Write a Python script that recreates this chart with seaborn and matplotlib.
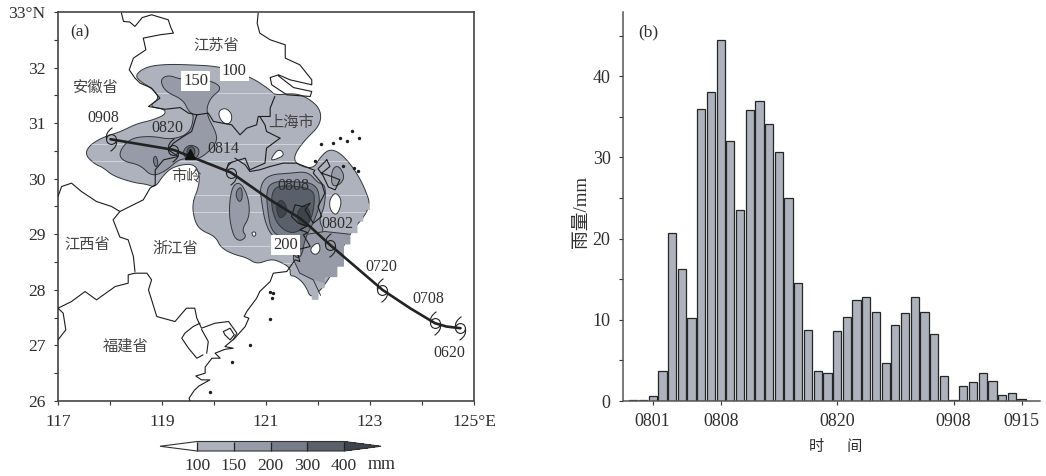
import numpy as np
import matplotlib
matplotlib.use("Agg")
import matplotlib.pyplot as plt
import seaborn as sns
from matplotlib.cm import ScalarMappable
from matplotlib.colors import BoundaryNorm, ListedColormap
from matplotlib.path import Path
from matplotlib.patches import Polygon

# ---- panel (b) hourly rain
hours = [-2, -1, 0, 1, 2, 3, 4, 5, 6, 7, 8, 9, 10, 11, 12, 13, 14, 15, 16, 17, 18,
         19, 20, 21, 22, 23, 24, 25, 26, 27, 28, 29, 30, 31, 32, 33, 34, 35, 36, 37, 38]
rain = [0.1, 0.1, 0.6, 3.7, 20.7, 16.2, 10.2, 35.9, 38.1, 44.4, 32.0, 23.5, 35.8, 37.0,
        34.1, 30.7, 25.0, 14.5, 8.7, 3.7, 3.4, 8.6, 10.4, 12.4, 12.8, 10.9, 4.7, 9.4,
        10.8, 12.8, 10.9, 8.2, 3.1, 0.1, 1.8, 2.3, 3.5, 2.5, 0.7, 1.0, 0.3]
hour_ticks = [0, 7, 19, 31, 38]
hour_labels = ['0801', '0808', '0820', '0908', '0915']

# ---- panel (a) rain areas, lon/lat
rain_100 = [(118.48,31.87),(118.71,32.02),(119.09,32.06),(119.54,32.05),(120.12,32.02),(120.69,31.84),
            (121.08,31.60),(121.17,31.50),(121.53,31.54),(121.78,31.47),(122.05,31.26),(122.05,30.97),
            (121.75,30.70),(121.54,30.43),(121.57,30.26),(121.91,30.17),(122.05,30.40),(122.23,30.54),
            (122.45,30.45),(122.71,30.16),(122.90,29.83),(123.03,29.47),(122.55,28.96),(122.30,28.30),
            (121.88,27.80),(121.75,28.10),(121.56,28.25),(121.46,28.25),(121.47,28.40),(121.24,28.52),
            (121.08,28.55),(120.82,28.46),(120.63,28.58),(120.37,28.64),(120.13,28.76),(120.03,28.96),
            (119.73,29.08),(119.62,29.26),(119.58,29.56),(119.71,29.86),(119.72,30.10),(119.60,30.28),
            (119.22,30.22),(119.03,30.07),(118.87,29.84),(118.71,29.90),(118.45,29.93),(118.06,30.05),
            (117.87,30.20),(117.71,30.26),(117.52,30.43),(117.60,30.60),(117.87,30.75),(118.19,30.84),
            (118.51,30.99),(118.80,31.05),(119.06,31.15),(119.06,31.25),(118.74,31.30),(118.96,31.45),
            (118.80,31.63),(118.58,31.75)]
rain_100_stairs = [(122.99,29.56),(123.00,29.44),(122.87,29.44),(122.87,29.23),(122.76,29.23),(122.76,29.02),
                   (122.62,29.02),(122.62,28.82),(122.50,28.82),(122.50,28.42),(122.37,28.42),(122.37,28.23),
                   (122.13,28.23),(122.13,28.03),(122.01,28.03),(122.01,27.82),(121.88,27.82),(121.88,28.30),
                   (122.29,29.44)]
rain_150_west = [(118.96,31.78),(119.12,31.87),(119.38,31.78),(119.92,31.78),(120.17,31.63),(119.92,31.45),
                 (119.84,31.18),(120.05,30.82),(120.05,30.64),(119.80,30.40),(119.60,30.34),(119.35,30.37),
                 (119.06,30.13),(118.80,30.04),(118.58,30.25),(118.26,30.31),(118.16,30.46),(118.38,30.73),
                 (118.80,30.77),(119.19,30.70),(119.54,30.82),(119.62,31.15),(119.51,31.21),(119.41,31.42),
                 (119.06,31.57)]
rain_150_oval = [(120.34,29.86),(120.50,29.95),(120.66,29.68),(120.69,29.32),(120.53,29.08),(120.63,28.96),
                 (120.50,28.87),(120.37,28.96),(120.28,29.38)]
rain_150_center = [(120.88,29.86),(121.04,30.07),(121.46,30.10),(121.81,30.13),(122.00,29.92),(122.15,29.89),
                   (122.13,29.50),(122.01,29.26),(122.13,29.05),(121.91,28.90),(121.65,28.60),(121.49,28.72),
                   (121.11,28.96),(120.98,29.23),(120.92,29.56)]
rain_150_south = [(122.13,29.05),(122.62,29.00),(122.62,28.82),(122.50,28.82),(122.50,28.42),(122.37,28.42),
                  (122.37,28.23),(122.13,28.23),(122.13,28.12),(121.91,28.18),(121.65,28.30),(121.53,28.54),
                  (121.53,28.75),(121.72,28.99)]
rain_150_east = [(122.26,30.16),(122.39,30.25),(122.52,30.04),(122.42,29.89),(122.26,29.86)]
south_contour = [(122.62,29.00),(122.13,29.05),(121.72,28.99),(121.53,28.75),(121.53,28.54),(121.65,28.30),
                 (121.91,28.18),(122.05,27.90)]
rain_200_center = [(121.00,29.80),(121.14,29.95),(121.49,29.95),(121.97,29.92),(122.05,29.56),(121.91,29.20),
                   (121.75,28.93),(121.69,28.60),(121.56,28.57),(121.49,28.78),(121.33,28.93),(121.11,29.05),
                   (121.04,29.35)]
rain_200_oval = [(120.44,29.80),(120.53,29.86),(120.55,29.65),(120.49,29.57),(120.42,29.68)]
rain_200_shiling = [(119.41,30.52),(119.54,30.62),(119.72,30.55),(119.70,30.40),(119.54,30.33),(119.42,30.40)]
rain_200_small = [(118.82,30.34),(118.88,30.43),(118.93,30.28),(118.88,30.19)]
rain_300_center = [(121.11,29.77),(121.27,29.89),(121.91,29.83),(121.94,29.56),(121.85,29.20),(121.53,28.99),
                   (121.24,29.14),(121.11,29.44)]
rain_300_shiling = [(119.46,30.49),(119.54,30.59),(119.63,30.55),(119.63,30.43),(119.54,30.37)]
rain_400_west = [(121.22,29.59),(121.33,29.62),(121.43,29.41),(121.27,29.26),(121.20,29.44)]
rain_400_east = [(121.62,29.44),(121.75,29.53),(121.85,29.41),(121.85,29.20),(121.69,29.14),(121.59,29.29)]
rain_holes = [
    [(120.08,31.21),(120.21,31.28),(120.34,31.18),(120.34,31.03),(120.24,30.97),(120.12,31.06)],
    [(121.08,30.34),(121.24,30.55),(121.37,30.43),(121.17,30.34)],
    [(122.22,29.62),(122.33,29.76),(122.44,29.65),(122.44,29.50),(122.35,29.33),(122.23,29.44)],
    [(121.85,28.75),(122.01,28.87),(122.05,28.72),(121.97,28.63),(121.88,28.66)],
    [(120.72,29.03),(120.79,29.05),(120.81,28.99),(120.76,28.95)],
]
grid_lats = [31.54, 30.62, 30.32, 29.71, 29.40, 28.79, 28.48]

# ---- panel (a) borders and coast
borders = [
    [(118.22,32.98),(118.26,32.83),(118.38,32.82),(118.48,32.74),(118.62,32.90),(118.80,32.95),(119.12,32.86),
     (119.17,32.72),(119.22,32.62),(118.96,32.59),(118.64,32.53),(118.69,32.32),(118.45,32.17),(118.37,31.96),
     (118.48,31.81),(118.58,31.72),(118.80,31.63),(118.96,31.45),(118.74,31.30),(119.06,31.25),(119.35,31.28),
     (119.51,31.18),(119.67,31.15)],
    [(119.67,31.15),(119.57,30.85),(119.41,30.76),(119.22,30.64),(119.12,30.52),(119.31,30.40),(119.03,30.34),
     (118.87,30.16),(118.87,29.89),(118.77,29.83),(118.64,29.62),(118.19,29.41),(118.06,29.26),(118.19,28.95),
     (118.35,28.90),(118.45,28.60),(118.48,28.33)],
    [(117.00,29.68),(117.07,29.86),(117.26,29.92),(117.45,29.77),(117.74,29.59),(118.03,29.50),(118.19,29.41)],
    [(118.48,28.30),(118.35,28.27),(118.35,28.12),(118.10,28.06),(117.74,27.82),(117.52,27.97),(117.26,27.79),
     (117.00,27.67),(117.10,27.58),(117.15,27.28),(117.00,27.10)],
    [(118.48,28.30),(118.71,28.30),(118.80,28.18),(118.74,28.00),(118.90,27.52),(119.25,27.43),(119.47,27.67),
     (119.63,27.67),(119.67,27.49),(119.76,27.31),(120.02,27.40),(120.28,27.43),(120.44,27.22),(120.37,27.10)],
    [(119.73,27.40),(119.60,27.34),(119.44,27.22),(119.38,27.13),(119.51,26.95),(119.67,26.77),(119.79,26.83)],
    [(119.76,27.29),(119.89,27.07),(119.86,26.86)],
    [(120.18,27.25),(120.31,27.31),(120.39,27.19),(120.31,27.10),(120.21,27.19),(120.18,27.25)],
    [(119.67,31.15),(119.89,31.18),(119.99,31.03),(120.34,30.97),(120.50,30.79),(120.63,30.91),(120.82,30.97),
     (120.85,31.12),(121.08,31.12),(121.08,31.27),(121.17,31.48)],
    [(120.88,31.12),(120.98,30.97),(121.01,30.85),(121.27,30.73)],
    [(121.27,30.73),(121.01,30.55),(120.98,30.28),(120.69,30.16),(120.60,30.37),(120.28,30.28),(120.23,30.13)],
    [(120.40,30.37),(120.60,30.25),(120.69,30.13),(120.88,30.16),(121.08,30.22),(121.33,30.28),(121.59,30.28),(121.91,30.16)],
]
coast = [(119.54,26.00),(119.52,26.05),(119.62,26.19),(119.71,26.27),(119.92,26.38),(119.76,26.38),(119.65,26.45),
         (119.83,26.50),(119.83,26.61),(119.96,26.77),(120.12,26.77),(120.02,26.86),(120.21,26.93),(120.37,26.95),
         (120.21,26.98),(120.40,27.13),(120.60,27.34),(120.67,27.49),(120.58,27.52),(120.63,27.61),(120.82,27.85),
         (120.88,27.97),(121.08,28.15),(121.14,28.30),(121.40,28.33),(121.56,28.54),(121.65,28.51),(121.59,28.72),
         (121.85,28.78),(121.72,28.99),(121.80,29.03),(121.65,29.08),(121.80,29.15),(121.62,29.20),(121.49,29.32),
         (121.56,29.53),(121.70,29.50),(121.85,29.56),(121.75,29.44),(121.91,29.20),(122.07,29.32),(122.00,29.50),
         (122.10,29.68),(122.13,29.74),(122.07,29.92),(121.91,30.10),(121.94,30.16)]
jiangsu_coast = [(120.85,32.98),(120.83,32.80),(120.88,32.62),(121.08,32.50),(121.37,32.41),(121.37,32.17),
                 (121.65,32.05),(121.88,31.78),(121.88,31.69),(121.46,31.78),(121.24,31.87),(121.08,31.82),
                 (121.11,31.69),(121.40,31.51),(121.85,31.48),(121.88,31.57),(121.53,31.64),(121.24,31.85)]
zhoushan = [(122.17,30.34),(122.23,30.22),(122.07,30.10),(122.26,30.04),(122.42,29.98),(122.33,29.80),(122.20,29.85),
            (122.10,30.05),(122.00,30.18),(122.17,30.34)]
island_lon = [122.65,122.42,122.55,122.78,122.05,122.28,121.95,122.49,122.69,122.76,119.92,120.69,120.35,121.11,121.08,121.08,121.14]
island_lat = [30.85,30.73,30.67,30.73,30.62,30.65,30.32,30.23,30.19,30.13,26.16,27.00,26.71,27.85,27.47,27.97,27.95]

# ---- panel (a) typhoon track
track_lon = [124.74,124.47,124.25,123.77,123.24,122.23,121.88,121.65,121.08,120.33,119.22,118.01]
track_lat = [27.31,27.34,27.40,27.67,28.00,28.81,29.11,29.29,29.62,30.11,30.52,30.71]
symbol_lon = [124.74,124.25,123.24,122.23,120.33,119.22,118.01]
symbol_lat = [27.31,27.40,28.00,28.81,30.11,30.52,30.71]
shiling_lon, shiling_lat = 119.54, 30.44

time_labels = [('0908',117.87,31.09),('0820',119.11,30.92),('0814',120.18,30.53),('0808',121.53,29.87),
               ('0802',122.37,29.18),('0720',123.22,28.42),('0708',124.13,27.83),('0620',124.52,26.86)]
place_labels = [('江苏省',120.04,32.39),('安徽省',117.72,31.64),('上海市',121.49,31.01),('市岭',119.47,30.04),
                ('江西省',117.57,28.81),('浙江省',119.26,28.73),('福建省',118.31,26.99)]
contour_labels = [('100',120.39,31.93),('150',119.65,31.75),('200',121.37,28.81)]

levels = [100, 150, 200, 300, 400]
level_colors = ['#aeb2bd', '#969ba7', '#767c88', '#596069']
over_color = '#3e444c'


def smooth(pts, n=3):
    # corner cutting so the traced contours look round
    p = np.array(pts, dtype=float)
    for _ in range(n):
        q = np.roll(p, -1, axis=0)
        p = np.column_stack([0.75 * p + 0.25 * q, 0.25 * p + 0.75 * q]).reshape(-1, 2)
    return p


def rain_area(ax, pts, color, z, edge='#33363b'):
    patch = Polygon(smooth(pts), closed=True, facecolor=color, edgecolor=edge, linewidth=0.7, zorder=z)
    ax.add_patch(patch)
    return patch


sns.set_theme(style='ticks')
plt.rcParams['font.family'] = ['Liberation Serif', 'Noto Sans CJK SC']
plt.rcParams['axes.unicode_minus'] = False

W, H = 1046, 476
fig = plt.figure(figsize=(W / 100, H / 100), dpi=100)
ax = fig.add_axes([58 / W, 75 / H, 416 / W, 389 / H])
ax2 = fig.add_axes([623 / W, 75 / H, 417 / W, 389 / H])
text_c = '#2e2e2e'

# panel a
outer = rain_area(ax, rain_100, level_colors[0], 1)
ax.add_patch(Polygon(rain_100_stairs, closed=True, facecolor=level_colors[0], edgecolor='none', zorder=1))
for lat in grid_lats:
    ax.axhline(lat, color='white', lw=0.6, alpha=0.5, zorder=1.5).set_clip_path(outer)
for pts in [rain_150_west, rain_150_oval, rain_150_center, rain_150_east]:
    rain_area(ax, pts, level_colors[1], 2)
ax.add_patch(Polygon(rain_150_south, closed=True, facecolor=level_colors[1], edgecolor='none', zorder=2))
ax.plot(*zip(*south_contour), color='#33363b', lw=0.7, zorder=2.1)
for pts in rain_holes:
    rain_area(ax, pts, 'white', 2.5)
for pts in [rain_200_center, rain_200_oval, rain_200_shiling, rain_200_small]:
    rain_area(ax, pts, level_colors[2], 3)
for pts in [rain_300_center, rain_300_shiling]:
    rain_area(ax, pts, level_colors[3], 3.5)
for pts in [rain_400_west, rain_400_east]:
    rain_area(ax, pts, over_color, 4)

for line in borders + [coast, jiangsu_coast, zhoushan]:
    ax.plot(*zip(*line), color='#1c1c1c', lw=0.8, zorder=5)
sns.scatterplot(x=island_lon, y=island_lat, s=6, color='#1c1c1c', linewidth=0, zorder=5, ax=ax)

sns.lineplot(x=track_lon, y=track_lat, sort=False, estimator=None, color='#222222', lw=1.9, zorder=6, ax=ax)
tail = Path([(-1, 0.1), (-1.3, 1.4), (0.2, 2.4)], [Path.MOVETO, Path.CURVE3, Path.CURVE3])
tail2 = Path([(1, -0.1), (1.3, -1.4), (-0.2, -2.4)], [Path.MOVETO, Path.CURVE3, Path.CURVE3])
symbol = Path.make_compound_path(Path.unit_circle(), tail, tail2)
ax.plot(symbol_lon, symbol_lat, linestyle='none', marker=symbol, ms=17, mfc='none', mec='#222222', mew=0.8, zorder=7)
ax.plot([shiling_lon], [shiling_lat], linestyle='none', marker='^', ms=7, color='#111111', zorder=7)

for s, x, y in time_labels:
    ax.text(x, y, s, fontsize=11.4, color=text_c, ha='center', va='center', zorder=8)
for s, x, y in place_labels:
    ax.text(x, y, s, fontsize=11, color='#444444', ha='center', va='center', zorder=8)
for s, x, y in contour_labels:
    ax.text(x, y, s, fontsize=12, color=text_c, ha='center', va='center', zorder=8,
            bbox=dict(facecolor='white', edgecolor='none', pad=1.5))
ax.text(117.42, 32.64, '(a)', fontsize=12.5, color=text_c, ha='center', va='center')

ax.set_xlim(117, 125)
ax.set_ylim(26, 33)
ax.set_xticks([117, 119, 121, 123, 125], ['117', '119', '121', '123', '125°E'])
ax.set_yticks(range(26, 34), [str(v) for v in range(26, 33)] + ['33°N'])
ax.set_xticks([118, 120, 122, 124], minor=True)
ax.set_yticks(np.arange(26.5, 33, 1), minor=True)
ax.tick_params(which='both', direction='out', length=3, width=0.8, color='#333333')
ax.tick_params(axis='both', labelsize=12.6, labelcolor=text_c, pad=6)
for sp in ax.spines.values():
    sp.set_color('#444444')
    sp.set_linewidth(1.2)

# colour bar
cax = fig.add_axes([160 / W, (476 - 451) / H, 221 / W, 9.5 / H])
cmap = ListedColormap(level_colors)
cmap.set_under('white')
cmap.set_over(over_color)
norm = BoundaryNorm(levels, cmap.N)
cbar = fig.colorbar(ScalarMappable(norm=norm, cmap=cmap), cax=cax, orientation='horizontal', extend='both',
                    extendfrac=37 / 146, spacing='uniform', ticks=levels, drawedges=True)
cbar.outline.set_edgecolor('#333333')
cbar.outline.set_linewidth(0.8)
cbar.dividers.set_color('#222222')
cbar.dividers.set_linewidth(0.9)
cbar.ax.minorticks_off()
cbar.ax.tick_params(length=0, labelsize=12.6, labelcolor=text_c, pad=5)
fig.text(382 / W, 11.5 / H, 'mm', fontsize=13, color=text_c, ha='center', va='center')

# panel b
sns.barplot(x=hours, y=rain, native_scale=True, color='#adb2bc', saturation=1, width=0.85,
            edgecolor='#262626', linewidth=0.9, ax=ax2)
ax2.set_xlim(-3.06, 39.9)
ax2.set_ylim(0, 47.9)
ax2.set_xticks(hour_ticks, hour_labels)
ax2.set_yticks([0, 10, 20, 30, 40])
ax2.set_yticks([5, 15, 25, 35, 45], minor=True)
ax2.tick_params(which='both', direction='out', length=3, width=0.8, color='#333333')
ax2.tick_params(axis='both', labelsize=13, labelcolor=text_c, pad=6)
sns.despine(ax=ax2)
for sp in ax2.spines.values():
    sp.set_color('#555555')
    sp.set_linewidth(1.1)
ax2.set_xlabel('时\u3000\u2002间', fontsize=11, color=text_c, x=0.51, labelpad=7)
ax2.set_ylabel('雨量/mm', fontsize=13.5, color=text_c, y=0.486, labelpad=2)
ax2.text(0.06, 0.948, '(b)', fontsize=12.5, color=text_c, ha='center', va='center', transform=ax2.transAxes)

fig.savefig('out.png', dpi=100)
